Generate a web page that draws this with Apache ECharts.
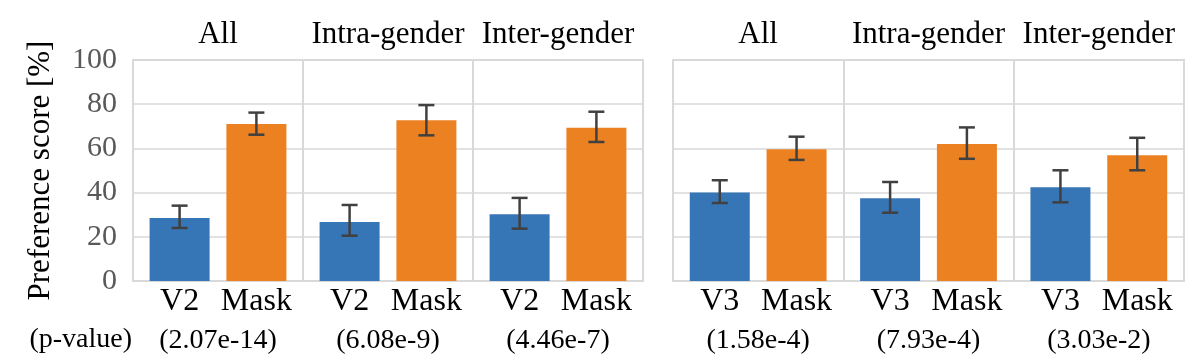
<!DOCTYPE html>
<html>
<head>
<meta charset="utf-8">
<script src="https://cdn.jsdelivr.net/npm/echarts@6/dist/echarts.min.js"></script>
<style>html,body{margin:0;padding:0;background:#fff}#c{width:1202px;height:362px}</style>
</head>
<body>
<div id="c"></div>
<script>
const groupNames = ['All', 'Intra-gender', 'Inter-gender'];
const pValuesV2 = ['(2.07e-14)', '(6.08e-9)', '(4.46e-7)'];
const pValuesV3 = ['(1.58e-4)', '(7.93e-4)', '(3.03e-2)'];
const yTicks = [0, 20, 40, 60, 80, 100];

const v2Vals = [28.5, 26.7, 30.2];
const v2Low = [24.0, 20.5, 23.7];
const v2High = [34.1, 34.4, 37.6];
const mask1Vals = [71.0, 72.7, 69.4];
const mask1Low = [66.2, 65.9, 62.9];
const mask1High = [76.2, 79.6, 76.6];

const v3Vals = [40.1, 37.4, 42.4];
const v3Low = [35.3, 30.9, 35.6];
const v3High = [45.6, 44.8, 50.1];
const mask2Vals = [59.6, 62.0, 56.9];
const mask2Low = [54.8, 55.3, 50.1];
const mask2High = [65.3, 69.5, 64.8];

const FONT = '"Liberation Serif", "Times New Roman", serif';
const BLUE = '#3776B6';
const ORANGE = '#EC8122';
const GRIDC = '#d9d9d9';
const BAR_W = 60;
const BAR_GAP = '28%';
const OFFSET = 38.4;

const chart = echarts.init(document.getElementById('c'));

function errSeries(gi, low, high, sign) {
  return {
    type: 'custom',
    xAxisIndex: gi * 2,
    yAxisIndex: gi,
    z: 10,
    silent: true,
    data: low.map((l, i) => [i, l, high[i]]),
    renderItem: function (params, api) {
      const c = api.coord([api.value(0), api.value(1)]);
      const t = api.coord([api.value(0), api.value(2)]);
      const x = c[0] + sign * OFFSET;
      const hw = 8;
      const st = { stroke: '#404040', lineWidth: 2.5 };
      return {
        type: 'group',
        children: [
          { type: 'line', shape: { x1: x, y1: c[1], x2: x, y2: t[1] }, style: st },
          { type: 'line', shape: { x1: x - hw, y1: c[1], x2: x + hw, y2: c[1] }, style: st },
          { type: 'line', shape: { x1: x - hw, y1: t[1], x2: x + hw, y2: t[1] }, style: st }
        ]
      };
    }
  };
}

function barSeries(gi, name, vals, color) {
  return {
    type: 'bar',
    name: name,
    xAxisIndex: gi * 2,
    yAxisIndex: gi,
    barWidth: BAR_W,
    barGap: BAR_GAP,
    data: vals,
    itemStyle: { color: color },
    label: {
      show: true,
      position: 'bottom',
      distance: 5,
      formatter: name,
      fontFamily: FONT,
      fontSize: 32,
      color: '#000'
    }
  };
}

function xAxes(gi, pvals) {
  return [
    {
      type: 'category',
      gridIndex: gi,
      data: pvals,
      position: 'bottom',
      axisLine: { show: true, lineStyle: { color: GRIDC, width: 2 } },
      axisTick: { show: false },
      splitLine: { show: true, lineStyle: { color: GRIDC, width: 2 } },
      axisLabel: { interval: 0, fontFamily: FONT, fontSize: 28, color: '#000', margin: 46 }
    },
    {
      type: 'category',
      gridIndex: gi,
      data: groupNames,
      position: 'top',
      axisLine: { show: false },
      axisTick: { show: false },
      axisLabel: { interval: 0, fontFamily: FONT, fontSize: 31, color: '#000', margin: 10 }
    }
  ];
}

function yAxis(gi, showLabels) {
  return {
    type: 'value',
    gridIndex: gi,
    min: yTicks[0],
    max: yTicks[yTicks.length - 1],
    interval: 20,
    axisLine: { show: false },
    axisTick: { show: false },
    splitLine: { show: true, lineStyle: { color: GRIDC, width: 1.5 } },
    axisLabel: { show: showLabels, fontFamily: FONT, fontSize: 30, color: '#595959', margin: 16 },
    name: showLabels ? 'Preference score [%]' : '',
    nameLocation: 'middle',
    nameGap: 77,
    nameTextStyle: { fontFamily: FONT, fontSize: 31, color: '#000' }
  };
}

chart.setOption({
  animation: false,
  backgroundColor: '#fff',
  grid: [
    { left: 133, right: 559, top: 60, bottom: 81, show: true, borderColor: GRIDC, borderWidth: 2, backgroundColor: 'transparent' },
    { left: 673, right: 18, top: 60, bottom: 81, show: true, borderColor: GRIDC, borderWidth: 2, backgroundColor: 'transparent' }
  ],
  xAxis: [].concat(xAxes(0, pValuesV2), xAxes(1, pValuesV3)),
  yAxis: [yAxis(0, true), yAxis(1, false)],
  graphic: [
    { type: 'text', right: 1070, top: 326, style: { text: '(p-value)', fontFamily: FONT, fontSize: 28, fill: '#000' } }
  ],
  series: [
    barSeries(0, 'V2', v2Vals, BLUE),
    barSeries(0, 'Mask', mask1Vals, ORANGE),
    barSeries(1, 'V3', v3Vals, BLUE),
    barSeries(1, 'Mask', mask2Vals, ORANGE),
    errSeries(0, v2Low, v2High, -1),
    errSeries(0, mask1Low, mask1High, 1),
    errSeries(1, v3Low, v3High, -1),
    errSeries(1, mask2Low, mask2High, 1)
  ]
});
</script>
</body>
</html>
